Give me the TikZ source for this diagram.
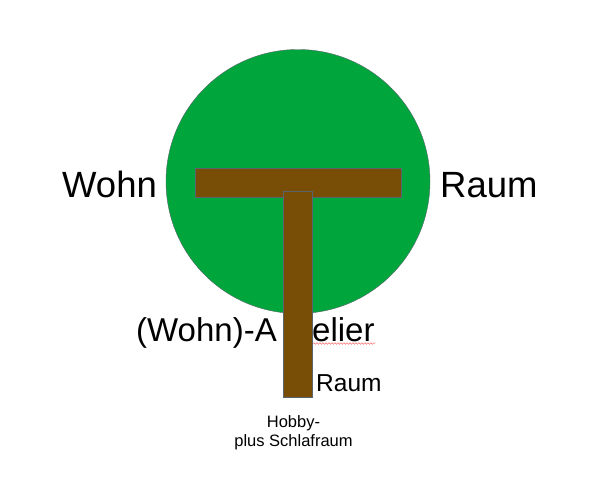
\documentclass[tikz,border=0pt]{standalone}
\usepackage{fontspec}
\setmainfont{Liberation Sans}
\usetikzlibrary{decorations.pathmorphing}
\definecolor{kronegruen}{RGB}{0,166,60}
\definecolor{stammbraun}{RGB}{120,78,6}
\definecolor{randgrau}{RGB}{90,100,110}
\tikzset{balken/.style={draw=randgrau,fill=stammbraun,line width=0.6pt,inner sep=0pt},
         grosstext/.style={inner sep=0pt,font=\fontsize{36.5}{40}\selectfont},
         ateliertext/.style={inner sep=0pt,font=\fontsize{33}{37}\selectfont},
         mitteltext/.style={inner sep=0pt,font=\fontsize{24.5}{28}\selectfont},
         kleintext/.style={inner sep=0pt,align=center,font=\fontsize{16.5}{19}\selectfont}}

\begin{document}
\begin{tikzpicture}[x=1pt,y=-1pt]
        \useasboundingbox (0,0) rectangle (600,485);
        \node[circle, fill=kronegruen, draw=randgrau, line width=0.4pt, minimum size=264pt, inner sep=0pt](krone)at(298,181.5){};
        \node[balken, minimum width=206pt, minimum height=29pt](quer)at(298,182.5){};

        \node[grosstext, anchor=base west](wohn)at(62,197){Wohn};
        \node[grosstext, anchor=base west](raum)at(440,197){Raum};
        \node[ateliertext, anchor=base west](atelier)at(136,341){(Wohn)-A};
        \node[ateliertext, anchor=base west](elier)at(312,341){elier};
        \draw[red!70, line width=0.4pt, decorate, decoration={snake, amplitude=0.8pt, segment length=3pt}]
            (elier.base west)++(1,2.5) coordinate(welle) -- ++(62,0);

        \node[balken, minimum width=29pt, minimum height=205.5pt](stamm)at(298,294.25){};

        \node[mitteltext, anchor=base west](raum2)at(316,391.5){Raum};
        \node[kleintext, anchor=base](hobby)at(293.5,446.5){Hobby-\\plus Schlafraum};
    \end{tikzpicture}
\end{document}
